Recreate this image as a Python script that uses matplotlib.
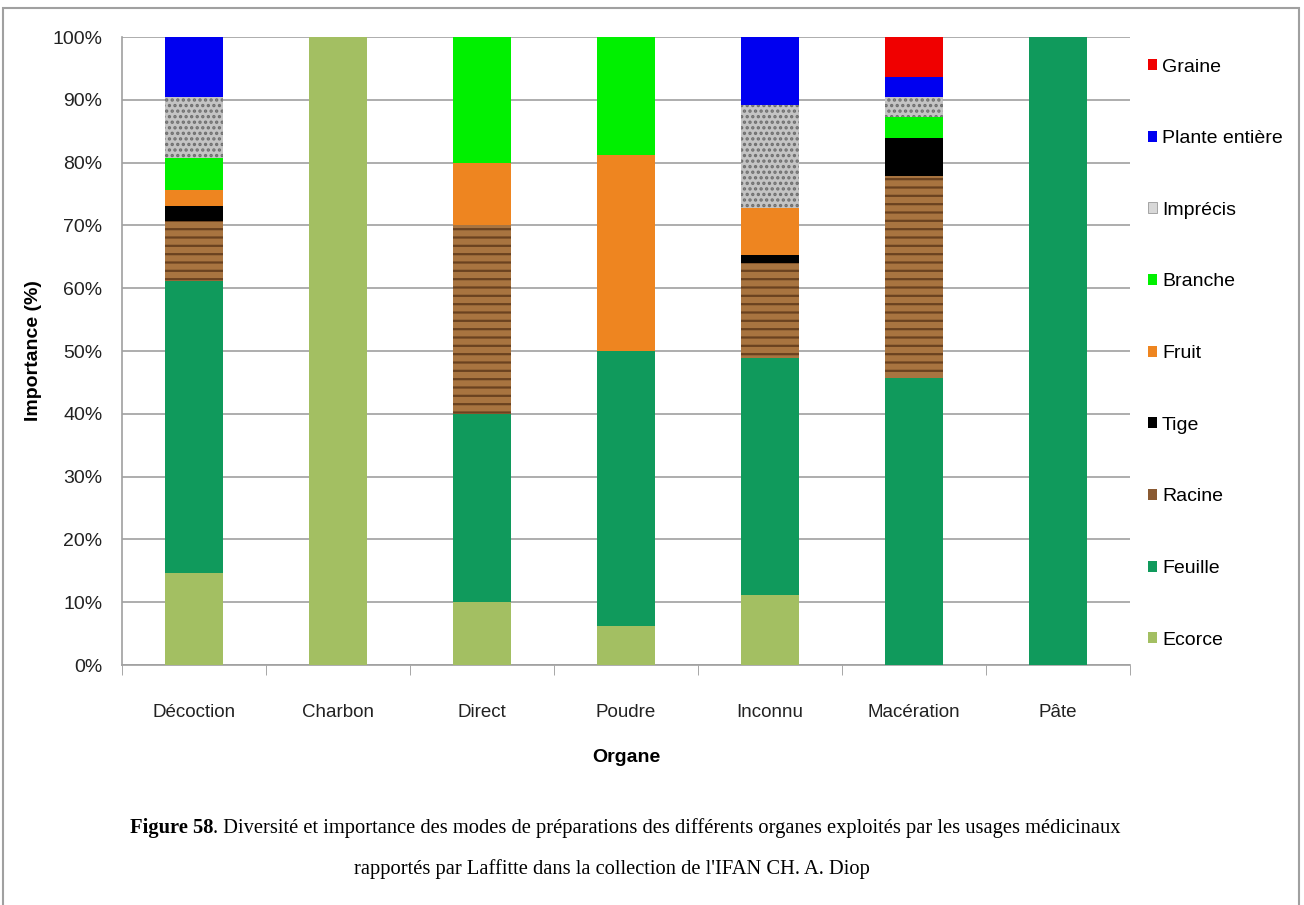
import matplotlib
matplotlib.use("Agg")
import matplotlib.pyplot as plt
from matplotlib.patches import Patch, Rectangle
import numpy as np

plt.rcParams['font.family'] = ['Liberation Sans', 'DejaVu Sans']
plt.rcParams['hatch.linewidth'] = 1.6

# preparation modes (x axis)
modes = ['Décoction', 'Charbon', 'Direct', 'Poudre', 'Inconnu', 'Macération', 'Pâte']

# organ shares (%) per mode, stacked bottom to top
ecorce = [14.7, 100, 10, 6.25, 11.1, 0, 0]
feuille = [46.5, 0, 30, 43.75, 37.8, 45.7, 100]
racine = [9.5, 0, 30, 0, 15.1, 32.1, 0]
tige = [2.4, 0, 0, 0, 1.3, 6.1, 0]
fruit = [2.5, 0, 10, 31.25, 7.5, 0, 0]
branche = [5.1, 0, 20, 18.75, 0, 3.3, 0]
imprecis = [9.8, 0, 0, 0, 16.3, 3.3, 0]
plante_entiere = [9.5, 0, 0, 0, 10.9, 3.2, 0]
graine = [0, 0, 0, 0, 0, 6.3, 0]

series = [
    ('Ecorce', ecorce, '#a3bf62', None, None),
    ('Feuille', feuille, '#109a5c', None, None),
    ('Racine', racine, '#a87440', '#6a4220', '--'),
    ('Tige', tige, '#000000', None, None),
    ('Fruit', fruit, '#ee8520', None, None),
    ('Branche', branche, '#00f000', None, None),
    ('Imprécis', imprecis, '#c4c4c4', '#6e6e6e', '...'),
    ('Plante entière', plante_entiere, '#0000f0', None, None),
    ('Graine', graine, '#f00000', None, None),
]
legend_colors = {'Racine': '#8a5a32', 'Imprécis': '#d8d8d8'}

fig = plt.figure(figsize=(13.04, 9.05), dpi=100)
ax = fig.add_axes([122/1304, 1 - 665/905, 1008/1304, 628/905])

x = np.arange(len(modes))
bottom = np.zeros(len(modes))
handles = []
for name, vals, col, hcol, hatch in series:
    vals = np.array(vals, dtype=float)
    if hatch:
        ax.bar(x, vals, 0.4, bottom=bottom, color=col, edgecolor=hcol,
               hatch=hatch, linewidth=0, zorder=3)
    else:
        ax.bar(x, vals, 0.4, bottom=bottom, color=col, linewidth=0, zorder=3)
    bottom += vals
    handles.append(Patch(facecolor=legend_colors.get(name, col),
                         edgecolor='#999999' if name == 'Imprécis' else 'none',
                         linewidth=0.6, label=name))

ax.set_xlim(-0.5, len(modes) - 0.5)
ax.set_ylim(0, 100)
ax.set_yticks(np.arange(0, 101, 10))
ax.set_yticklabels(['%d%%' % v for v in range(0, 101, 10)], fontsize=14, color='#222222')
ax.set_xticks(x)
ax.set_xticklabels(modes, fontsize=13.5, color='#222222')
ax.set_xticks(np.arange(-0.5, len(modes), 1), minor=True)
ax.tick_params(axis='x', which='major', length=0, pad=28)
ax.tick_params(axis='x', which='minor', length=7, color='#999999')
ax.tick_params(axis='y', length=0, pad=14)
ax.grid(axis='y', color='#a0a0a0', linewidth=1.2, zorder=0)
for s in ['top', 'right']:
    ax.spines[s].set_visible(False)
for s in ['left', 'bottom']:
    ax.spines[s].set_color('#a0a0a0')
    ax.spines[s].set_linewidth(1.2)

ax.set_ylabel('Importance (%)', fontsize=14, fontweight='bold')
ax.yaxis.set_label_coords((42 - 122) / 1008, 0.5)
ax.set_xlabel('Organe', fontsize=14, fontweight='bold', labelpad=20)

fig.legend(handles[::-1], [h.get_label() for h in handles[::-1]],
           loc='upper left', bbox_to_anchor=(1130/1304, 1 - 41/905),
           frameon=False, fontsize=14, handlelength=0.5, handleheight=0.5,
           handletextpad=0.25, labelspacing=2.81)

# caption
renderer = fig.canvas.get_renderer()
cap_font = ['Liberation Serif', 'DejaVu Serif']
t1 = fig.text(0, 0, 'Figure 58', fontsize=14.8, fontweight='bold', family=cap_font)
t2 = fig.text(0, 0, '. Diversité et importance des modes de préparations des différents '
              'organes exploités par les usages médicinaux', fontsize=14.8, family=cap_font)
w1 = t1.get_window_extent(renderer).width
w2 = t2.get_window_extent(renderer).width
x0 = 625 - (w1 + w2) / 2
y1 = 1 - 833/905
t1.set_position((x0/1304, y1))
t2.set_position(((x0 + w1)/1304, y1))
fig.text(612/1304, 1 - 874/905, "rapportés par Laffitte dans la collection de l'IFAN CH. A. Diop",
         fontsize=14.8, family=cap_font, ha='center')

fig.patches.append(Rectangle((3/1304, -0.01), 1296/1304, 1 - 8/905 + 0.01,
                             transform=fig.transFigure, fill=False,
                             edgecolor='#a0a0a0', linewidth=1.5))

fig.savefig('out.png', dpi=100)
